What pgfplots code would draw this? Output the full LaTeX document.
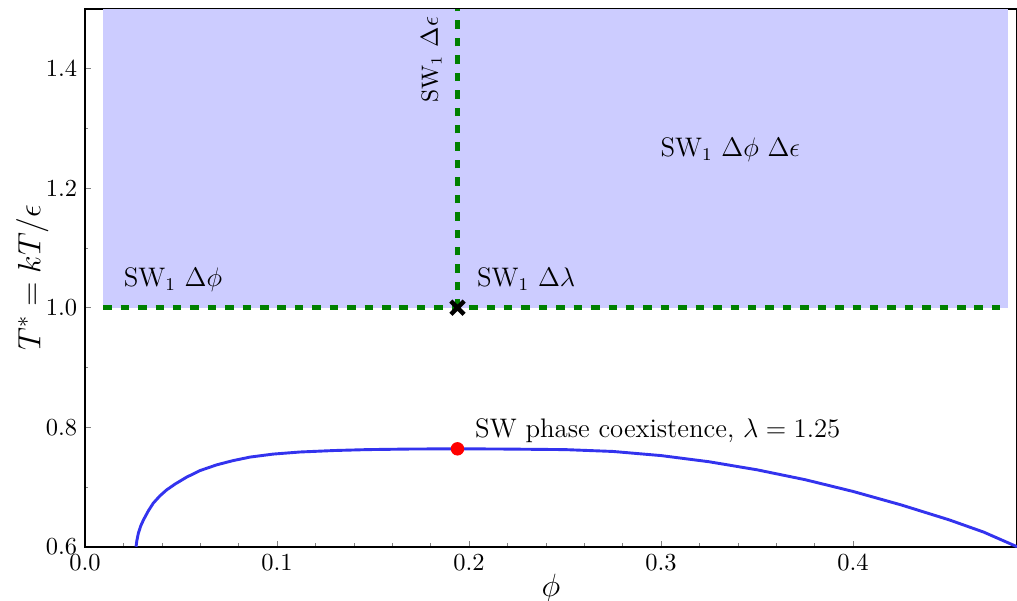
\documentclass[border=0pt]{standalone}
\usepackage{pgfplots}
\pgfplotsset{compat=1.18}
\definecolor{shade}{HTML}{CCCCFF}
\definecolor{dgreen}{HTML}{008000}
\definecolor{cblue}{HTML}{3333EE}
\begin{document}
\begin{tikzpicture}
\begin{axis}[
  scale only axis,
  width=14.663cm, height=8.46cm,
  xmin=0, xmax=0.4854, ymin=0.6, ymax=1.5,
  xtick={0,0.1,0.2,0.3,0.4}, ytick={0.6,0.8,1.0,1.2,1.4},
  minor x tick num=4, minor y tick num=1,
  xtick pos=both, ytick pos=left,
  tick align=inside,
  major tick length=2.6pt, minor tick length=1.5pt,
  xticklabel style={/pgf/number format/fixed,/pgf/number format/fixed zerofill,/pgf/number format/precision=1},
  yticklabel style={/pgf/number format/fixed,/pgf/number format/fixed zerofill,/pgf/number format/precision=1},
  tick label style={font=\fontsize{10.5}{12}\selectfont},
  xlabel={$\phi$}, ylabel={$T^{*}=kT/\epsilon$},
  label style={font=\fontsize{14}{16}\selectfont},
  xlabel style={yshift=5pt},
  ylabel style={yshift=-8pt},
  axis line style={line width=0.8pt},
  clip=false,
]
\addplot[fill=shade, draw=none] coordinates {(0.0095,1.0) (0.4805,1.0) (0.4805,1.5) (0.0095,1.5)} -- cycle;
\addplot[dgreen, line width=2.3pt, dash pattern=on 3.8pt off 4pt] coordinates {(0.0095,1.0) (0.4805,1.0)};
\addplot[dgreen, line width=2.3pt, dash pattern=on 3.8pt off 4pt] coordinates {(0.194,1.0) (0.194,1.5)};
\addplot[cblue, line width=1.3pt, line join=round] coordinates {
(0.0266,0.600) (0.0270,0.610) (0.0278,0.6225) (0.0290,0.6345) (0.0304,0.6445)
(0.0330,0.660) (0.0356,0.673) (0.0390,0.685) (0.0425,0.695) (0.047,0.705)
(0.053,0.7165) (0.060,0.7275) (0.0686,0.737) (0.077,0.744) (0.086,0.750)
(0.098,0.755) (0.112,0.7585) (0.130,0.761) (0.147,0.7625) (0.170,0.7635)
(0.194,0.7638) (0.216,0.7635) (0.240,0.7628) (0.250,0.7625) (0.275,0.7594)
(0.300,0.7525) (0.325,0.7422) (0.350,0.7287) (0.375,0.7122) (0.400,0.6925)
(0.425,0.670) (0.450,0.645) (0.468,0.6245) (0.4854,0.600)};
\addplot[only marks, mark=*, red, mark size=2.8pt] coordinates {(0.194,0.7638)};
\addplot[only marks, mark=x, black, mark size=4.2pt, line width=2pt] coordinates {(0.194,1.0)};
\begin{scope}[every node/.style={inner sep=0pt, font=\fontsize{12}{14}\selectfont}]
\node[anchor=base west] at (axis cs:0.02,1.035) {SW$_1$ $\Delta\phi$};
\node[anchor=base west] at (axis cs:0.204,1.035) {SW$_1$ $\Delta\lambda$};
\node[anchor=base west] at (axis cs:0.2995,1.253) {SW$_1$ $\Delta\phi$ $\Delta\epsilon$};
\node[anchor=base west, rotate=90, font=\fontsize{10.5}{12}\selectfont] at (axis cs:0.1838,1.343) {SW$_1$ $\Delta\epsilon$};
\node[anchor=base west] at (axis cs:0.203,0.782) {SW phase coexistence, $\lambda=1.25$};
\end{scope}
\end{axis}
\pgfresetboundingbox
\path (current axis.south west) ++(-1.337cm,-0.839cm) rectangle ++(16cm,9.44cm);
\end{tikzpicture}
\end{document}
